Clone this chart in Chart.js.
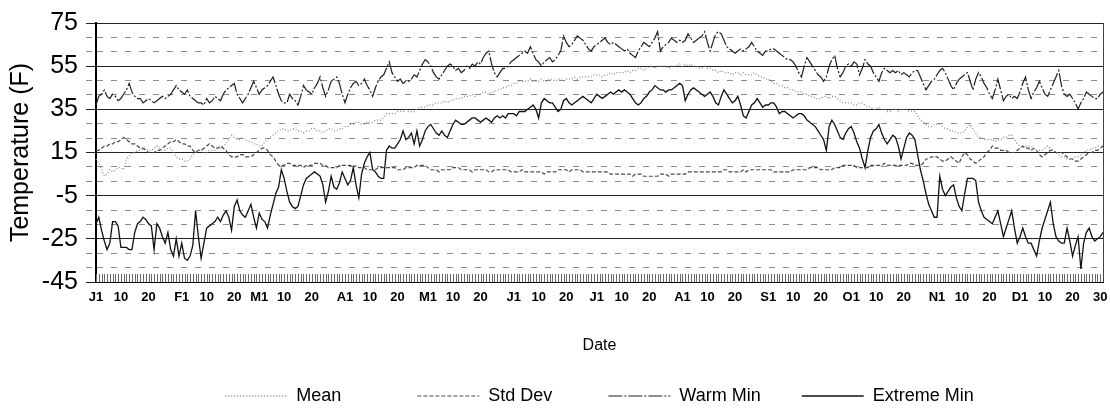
<!DOCTYPE html>
<html><head><meta charset="utf-8">
<script src="https://cdn.jsdelivr.net/npm/chart.js@4.4.1/dist/chart.umd.min.js"></script>
<style>html,body{margin:0;padding:0;background:#fff;}#wrap{width:1110px;height:412px;}</style>
</head><body><div id="wrap"><canvas id="c" width="1110" height="412"></canvas></div>
<script>
// ---- data ----
const seriesNames = ['Mean', 'Std Dev', 'Warm Min', 'Extreme Min'];
const monthLengths = [31,28,31,30,31,30,31,31,30,31,30,31];
const tickDays = [1,10,20, 32,41,51, 60,69,79, 91,100,110, 121,130,140, 152,161,171, 182,191,201, 213,222,232, 244,253,263, 274,283,293, 305,314,324, 335,344,354,364];
const tickLabels = ['J1','10','20','F1','10','20','M1','10','20','A1','10','20','M1','10','20','J1','10','20','J1','10','20','A1','10','20','S1','10','20','O1','10','20','N1','10','20','D1','10','20','30'];
const yLabels = [75,55,35,15,-5,-25,-45];

const mean = [
12,10,7,4,5,7,6,7,8,8,7,12,13,15,15,16,16,17,17,16,16,17,18,17,16,16,17,17,15,13,12,
12,11,11,12,14,15,16,16,15,15,16,16,16,17,17,18,19,21,23,22,21,21,22,21,20,20,19,19,
18,18,20,21,22,23,24,25,26,26,25,25,26,26,25,25,24,25,25,26,26,25,25,24,25,26,26,25,25,26,26,
27,27,28,28,29,29,28,28,29,29,29,30,30,30,31,33,33,33,33,34,34,34,35,34,34,34,35,36,36,36,
37,37,37,38,38,38,39,38,39,39,40,40,40,41,41,41,42,41,42,42,43,43,42,43,43,44,44,45,45,46,46,
47,47,48,48,48,48,49,48,48,48,49,48,48,49,49,48,49,49,48,49,49,49,50,49,50,50,50,50,50,51,
51,51,50,51,51,52,51,52,52,52,52,53,52,53,53,54,54,53,54,55,55,54,55,55,55,55,54,55,55,55,56,
55,56,55,56,55,55,54,54,55,54,54,53,53,52,53,52,52,52,51,52,52,51,52,51,51,51,52,51,50,50,49,
49,48,47,47,46,46,45,45,44,44,43,43,43,42,42,41,41,40,40,40,41,41,40,41,41,40,39,38,38,38,
38,37,37,38,38,37,36,36,35,35,36,35,35,34,34,35,35,34,35,35,35,34,34,34,32,30,29,28,27,27,28,
28,28,27,26,26,25,25,24,24,24,25,27,28,26,24,22,22,21,21,21,21,20,21,21,22,22,23,23,21,19,
18,17,18,18,18,17,16,16,16,17,18,17,16,15,14,13,13,12,12,12,13,13,14,15,16,16,17,17,18,18,18];

const stdDev = [
16,16,17,18,18,19,19,20,20,21,22,21,20,19,19,18,17,17,16,15,15,15,16,16,17,18,19,20,20,21,20,
19,19,18,18,16,15,16,16,17,18,19,18,17,17,18,17,16,14,13,13,13,14,14,13,13,13,14,15,
16,17,17,16,14,13,11,9,9,9,10,10,9,9,9,9,8,9,9,9,10,10,10,9,9,8,8,8,8,9,9,
9,9,9,8,9,8,8,8,7,7,7,7,8,8,8,8,8,8,8,7,7,7,8,8,8,8,9,9,9,9,
8,7,7,7,6,7,7,7,7,8,8,8,7,7,7,7,6,7,7,7,7,7,6,6,7,7,7,7,7,7,6,
6,6,6,7,6,6,6,6,6,6,6,5,6,6,6,6,7,7,7,7,6,7,7,7,7,6,6,6,6,6,
6,6,6,6,6,5,5,5,5,5,5,5,5,4,5,5,5,4,4,4,4,4,4,5,5,5,4,5,5,5,5,
5,5,6,6,6,6,6,6,6,6,6,6,6,6,6,7,7,6,6,6,6,6,7,6,7,7,7,7,7,7,7,
7,7,6,6,6,6,6,6,6,7,7,7,7,7,7,8,8,8,8,7,7,7,7,7,8,8,8,9,9,9,
9,9,8,8,8,8,8,9,9,9,9,9,10,9,9,9,9,9,9,9,9,10,10,9,9,9,10,12,12,13,13,
13,12,11,11,12,13,12,11,10,13,15,14,12,11,10,11,12,13,15,16,18,17,17,16,16,16,15,15,15,16,
17,18,17,17,16,17,16,14,13,14,15,16,16,15,15,15,14,13,12,12,11,11,12,13,14,15,15,16,16,17,18];

const warmMin = [
37,41,42,44,41,40,42,41,39,40,42,44,47,43,41,40,40,38,39,40,39,38,39,40,41,40,41,42,44,46,44,
43,42,44,41,40,39,38,38,37,40,38,39,41,40,39,42,44,45,46,47,42,40,38,40,42,45,48,45,
42,44,45,46,48,50,46,42,39,38,38,42,40,39,37,41,46,44,43,42,45,47,50,45,41,44,48,49,50,47,42,
38,42,45,47,48,46,47,49,46,44,41,45,48,50,51,54,57,52,50,48,49,47,48,48,49,51,50,53,56,58,
57,55,52,50,49,51,53,55,56,55,53,54,52,53,55,54,56,55,57,56,59,61,62,56,52,50,52,54,54,55,57,
58,59,60,61,62,61,64,61,58,57,55,57,58,59,57,58,60,62,69,66,64,65,67,69,68,67,65,63,62,64,
65,66,67,68,66,65,66,65,64,63,62,63,61,60,59,62,64,66,65,64,66,68,71,62,64,65,66,68,67,66,67,
66,67,70,68,66,67,68,69,71,66,62,66,70,71,70,67,64,63,62,61,62,63,62,63,64,66,64,62,61,60,62,
62,63,63,62,61,60,59,58,58,57,55,52,50,55,59,57,55,53,51,50,48,50,55,58,60,54,50,52,55,56,
55,57,56,51,54,58,56,55,52,50,48,52,54,53,52,53,52,53,51,52,51,50,52,53,53,50,47,44,46,48,49,
51,53,54,52,49,46,44,47,49,50,51,52,48,44,49,52,50,47,45,42,40,44,49,44,39,41,42,40,41,40,
43,47,50,44,40,43,45,48,45,42,41,44,47,50,53,46,42,41,42,40,38,35,38,40,43,42,41,40,40,42,43];

const extremeMin = [
-18,-15,-21,-26,-30,-27,-17,-17,-19,-29,-29,-29,-30,-30,-22,-18,-17,-15,-16,-18,-19,-30,-18,-20,-24,-27,-22,-30,-33,-25,-33,
-27,-34,-35,-33,-28,-12,-24,-34,-27,-20,-19,-18,-17,-15,-17,-14,-12,-15,-21,-10,-7,-12,-14,-15,-12,-9,-15,-20,
-13,-16,-17,-20,-14,-9,-4,-1,7,3,-3,-8,-10,-11,-10,-5,0,3,4,5,6,5,4,0,-8,-3,4,-1,-2,1,6,
3,0,2,8,0,-6,5,10,13,15,7,6,4,3,3,16,18,17,17,19,21,25,21,22,24,19,25,18,21,25,
27,28,26,24,23,25,23,22,25,28,30,29,28,28,29,30,31,31,30,29,30,31,30,29,31,32,31,32,31,33,33,
33,32,34,34,34,35,36,37,35,31,38,40,39,38,38,36,34,35,39,40,38,37,38,39,40,41,40,39,38,40,
42,41,40,41,42,43,42,43,44,43,44,43,42,40,38,37,38,40,41,43,44,46,45,44,44,43,44,44,45,46,47,
46,39,42,44,45,44,43,42,41,42,43,41,38,37,41,44,42,40,38,39,41,37,32,31,34,37,38,40,38,36,37,
37,38,38,36,33,34,34,33,32,31,32,33,33,32,30,29,28,27,25,23,21,16,27,30,28,25,22,21,24,26,
27,24,20,17,12,8,16,22,25,26,28,24,21,19,21,23,22,18,12,17,22,24,23,21,14,7,2,-4,-9,-12,-15,
-15,4,-2,-5,-3,-1,0,-6,-10,-12,-4,3,3,3,2,-8,-12,-15,-16,-17,-18,-15,-12,-18,-24,-20,-16,-12,-20,-27,
-24,-20,-24,-27,-27,-30,-33,-26,-20,-16,-12,-8,-18,-24,-26,-27,-27,-20,-26,-33,-28,-24,-39,-27,-22,-20,-24,-26,-25,-24,-22];

// ---- categories ----
const totalDays = monthLengths.reduce((a, b) => a + b, 0);
const days = Array.from({length: totalDays}, (_, i) => i + 1);

// ---- styling ----
const FONT = "'Liberation Sans', Arial, Helvetica, sans-serif";
Chart.defaults.font.family = FONT;
Chart.defaults.color = '#000';
const legendPad = [14, 10, 7, 0];
const isMajor = (v) => yLabels.some(l => Math.abs(l - v) < 1e-6);

const framePlugin = {
  id: 'frame',
  beforeDatasetsDraw(chart) {
    const {ctx, chartArea: a, scales: {x}} = chart;
    ctx.save();
    ctx.strokeStyle = '#6a6a6a';
    ctx.lineWidth = 1;
    ctx.beginPath();
    for (let i = 0; i < days.length; i++) {
      const px = Math.round(x.getPixelForValue(i)) + 0.5;
      ctx.moveTo(px, a.bottom - 8);
      ctx.lineTo(px, a.bottom);
    }
    ctx.stroke();
    ctx.strokeStyle = '#444';
    ctx.beginPath();
    ctx.moveTo(Math.round(a.right) + 0.5, a.top);
    ctx.lineTo(Math.round(a.right) + 0.5, a.bottom);
    ctx.stroke();
    ctx.restore();
  }
};

new Chart(document.getElementById('c'), {
  type: 'line',
  data: {
    labels: days,
    datasets: [
      { label: seriesNames[0], data: mean, borderColor: '#8a8a8a', borderDash: [1, 2], borderWidth: 1.3 },
      { label: seriesNames[1], data: stdDev, borderColor: '#4a4a4a', borderDash: [4, 2], borderWidth: 1.2 },
      { label: seriesNames[2], data: warmMin, borderColor: '#1e1e1e', borderDash: [14, 2, 2, 2], borderWidth: 1.2 },
      { label: seriesNames[3], data: extremeMin, borderColor: '#111', borderWidth: 1.3 }
    ]
  },
  options: {
    responsive: false,
    animation: false,
    devicePixelRatio: 1,
    layout: { padding: { left: 6, right: 7, top: 17, bottom: -3 } },
    elements: { point: { radius: 0 }, line: { tension: 0, fill: false } },
    plugins: {
      tooltip: { enabled: false },
      legend: {
        position: 'bottom',
        fullSize: false,
        labels: {
          usePointStyle: true,
          pointStyle: 'line',
          pointStyleWidth: 62,
          padding: 6,
          color: '#000',
          font: { size: 18, family: FONT },
          generateLabels(chart) {
            const items = Chart.defaults.plugins.legend.labels.generateLabels(chart);
            items.forEach((it, i) => {
              const ds = chart.data.datasets[i];
              it.text = seriesNames[i] + ' '.repeat(legendPad[i]);
              it.strokeStyle = ds.borderColor;
              it.lineDash = ds.borderDash || [];
              it.lineWidth = ds.borderWidth;
            });
            return items;
          }
        }
      }
    },
    scales: {
      x: {
        type: 'category',
        afterFit(scale) { scale.height = 99; },
        grid: { display: false },
        border: { display: true, color: '#000', width: 1 },
        ticks: {
          autoSkip: false, maxRotation: 0, minRotation: 0, padding: 0,
          color: '#000', font: { size: 13, weight: 'bold', family: FONT },
          callback: (v, i) => { const k = tickDays.indexOf(i + 1); return k >= 0 ? tickLabels[k] : ''; }
        },
        title: { display: true, text: 'Date', color: '#000', font: { size: 16, family: FONT }, padding: { top: 4, bottom: 26 } }
      },
      y: {
        min: -45, max: 75,
        afterBuildTicks(scale) {
          const vals = [];
          yLabels.forEach(v => { vals.push(v); if (v < 75) { vals.push(v + 20 / 3, v + 40 / 3); } });
          scale.ticks = vals.sort((a, b) => a - b).map(v => ({ value: v }));
        },
        afterFit(scale) { scale.width = 90; },
        ticks: {
          autoSkip: false, padding: 8, color: '#000',
          font: { size: 25, family: FONT },
          callback: (v) => { const m = yLabels.find(l => Math.abs(l - v) < 1e-6); return m === undefined ? '' : String(m); }
        },
        grid: {
          color: (c) => (c.tick && isMajor(c.tick.value)) ? '#222' : '#8c8c8c',
          tickColor: (c) => (c.tick && isMajor(c.tick.value)) ? '#222' : '#8c8c8c',
          tickBorderDash: (c) => (c.tick && isMajor(c.tick.value)) ? [] : [6, 8],
          lineWidth: 1, tickLength: 10
        },
        border: {
          display: true, color: '#000', width: 2,
          dash: (c) => (c.tick && !isMajor(c.tick.value)) ? [6, 8] : []
        },
        title: { display: true, text: 'Temperature (F)', color: '#000', font: { size: 25, family: FONT }, padding: { top: 0, bottom: 3 } }
      }
    }
  },
  plugins: [framePlugin]
});
</script></body></html>
